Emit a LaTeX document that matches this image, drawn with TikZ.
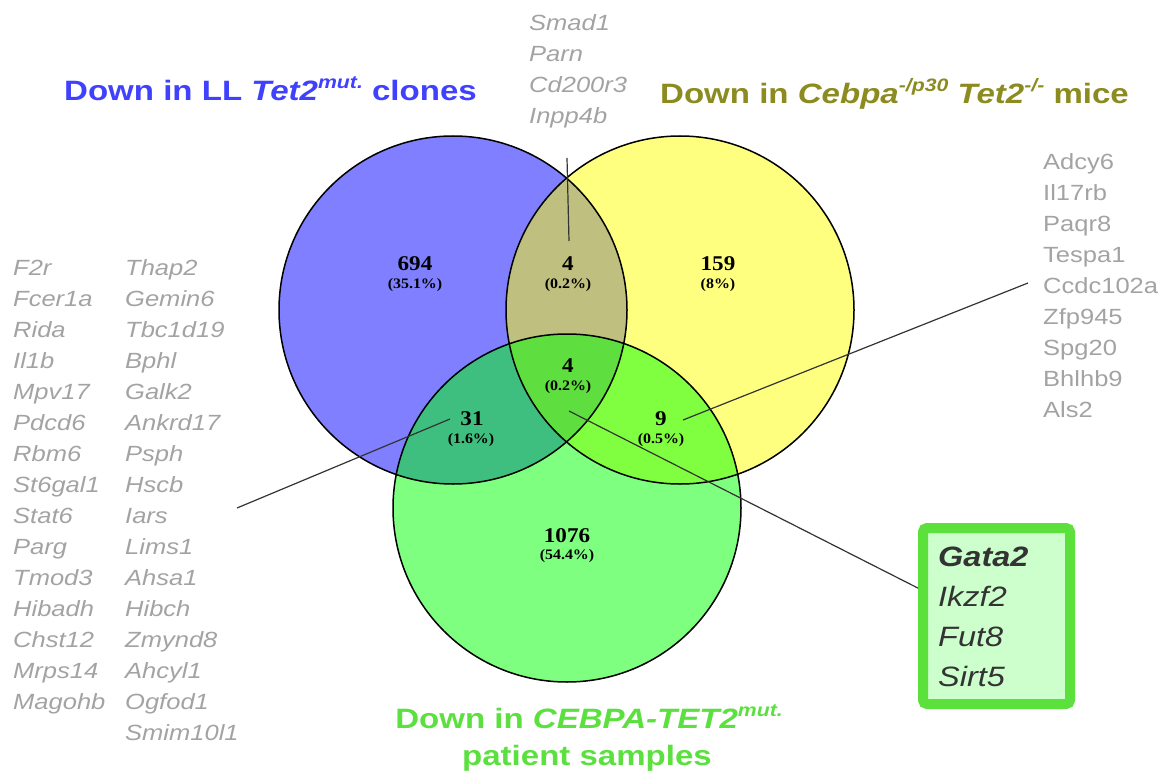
\documentclass[tikz,border=0pt]{standalone}
\usepackage{fontspec}
\usetikzlibrary{calc}
\newfontfamily\gsans[FakeStretch=1.16]{Liberation Sans}
\newfontfamily\tsans[FakeStretch=1.18]{Liberation Sans}
\newfontfamily\gserif[FakeStretch=1.1]{Liberation Serif}
\definecolor{vblue}{HTML}{0000FF}
\definecolor{vyellow}{HTML}{FFFF00}
\definecolor{vgreen}{HTML}{00FF00}
\definecolor{genegray}{HTML}{A3A3A3}
\definecolor{boxtext}{HTML}{333333}
\definecolor{titleblue}{HTML}{4040FF}
\definecolor{titleolive}{HTML}{8B8B20}
\definecolor{titlegreen}{HTML}{5BE03F}
\definecolor{boxgreen}{HTML}{5CE03C}
\definecolor{boxfill}{HTML}{CCFFCC}
\definecolor{leadgray}{HTML}{333333}
\newcommand\supr[1]{\raisebox{12pt}{\fontsize{18}{18}\selectfont #1}}
\begin{document}
\begin{tikzpicture}[x=1pt,y=-1pt,
  venn/.style={circle, minimum size=348pt, inner sep=0pt, fill opacity=0.5, draw=none},
  vline/.style={draw=black, line width=1.5pt},
  num/.style={font=\gserif\bfseries\fontsize{21}{21}\selectfont, anchor=base, inner sep=0pt},
  pct/.style={font=\gserif\bfseries\fontsize{14.5}{14.5}\selectfont, anchor=base, inner sep=0pt},
  gene/.style={font=\gsans\fontsize{22}{22}\selectfont, text=genegray, anchor=base west, inner sep=0pt},
  igene/.style={font=\gsans\itshape\fontsize{22}{22}\selectfont, text=genegray, anchor=base west, inner sep=0pt},
  boxgene/.style={font=\gsans\itshape\fontsize{28}{28}\selectfont, text=boxtext, anchor=base west, inner sep=0pt},
  title/.style={font=\tsans\bfseries\fontsize{28}{28}\selectfont, inner sep=0pt},
  leader/.style={draw=leadgray, line width=1.2pt}]
\useasboundingbox (0,0) rectangle (1170,773);
% circles
\node[venn, fill=vblue] (A) at (453,310) {};
\node[venn, fill=vyellow] (B) at (680,310) {};
\node[venn, fill=vgreen] (C) at (567,508) {};
\draw[vline] (A.center) circle[radius=174];
\draw[vline] (B.center) circle[radius=174];
\draw[vline] (C.center) circle[radius=174];
% titles
\node[title, text=titleblue, anchor=base west] (tA) at (64,101) {Down in LL \textit{Tet2\supr{mut.}} clones};
\node[title, text=titleolive, anchor=base west] (tB) at (660,104) {Down in \textit{Cebpa\supr{-/p30} Tet2\supr{-/-}} mice};
\node[title, text=titlegreen, anchor=base] (tC1) at (589,728) {Down in \textit{CEBPA-TET2\supr{mut.}}};
\node[title, text=titlegreen, anchor=base] (tC2) at (587,765) {patient samples};
% counts
\node[num] (n1) at (415,270) {694};
\node[pct] (p1) at (415,288) {(35.1\%)};
\node[num] (n2) at (568,270) {4};
\node[pct] (p2) at (568,288) {(0.2\%)};
\node[num] (n3) at (718,270) {159};
\node[pct] (p3) at (718,288) {(8\%)};
\node[num] (n4) at (568,372) {4};
\node[pct] (p4) at (568,390) {(0.2\%)};
\node[num] (n5) at (472,425) {31};
\node[pct] (p5) at (471,443) {(1.6\%)};
\node[num] (n6) at (661,425) {9};
\node[pct] (p6) at (661,443) {(0.5\%)};
\node[num] (n7) at (567,542) {1076};
\node[pct] (p7) at (567,559) {(54.4\%)};
% gene lists
\foreach \g [count=\i from 0] in {Smad1,Parn,Cd200r3,Inpp4b}
  \node[igene] (top\i) at (529,{31+31*\i}) {\g};
\foreach \g [count=\i from 0] in {Adcy6,Il17rb,Paqr8,Tespa1,Ccdc102a,Zfp945,Spg20,Bhlhb9,Als2}
  \node[gene] (rt\i) at (1043,{169+31*\i}) {\g};
\foreach \g [count=\i from 0] in {F2r,Fcer1a,Rida,Il1b,Mpv17,Pdcd6,Rbm6,St6gal1,Stat6,Parg,Tmod3,Hibadh,Chst12,Mrps14,Magohb}
  \node[igene] (la\i) at (13,{275+31*\i}) {\g};
\foreach \g [count=\i from 0] in {Thap2,Gemin6,Tbc1d19,Bphl,Galk2,Ankrd17,Psph,Hscb,Iars,Lims1,Ahsa1,Hibch,Zmynd8,Ahcyl1,Ogfod1,Smim10l1}
  \node[igene] (lb\i) at (125,{275+31*\i}) {\g};
% box
\node[draw=boxgreen, line width=10pt, fill=boxfill, rounded corners=4pt, minimum width=147pt, minimum height=176pt, inner sep=0pt] (box) at (996.5,616) {};
\node[boxgene, font=\gsans\bfseries\itshape\fontsize{28}{28}\selectfont] (g0) at (938,566) {Gata2};
\node[boxgene] (g1) at (938,606) {Ikzf2};
\node[boxgene] (g2) at (938,646) {Fut8};
\node[boxgene] (g3) at (938,686) {Sirt5};
% leaders
\coordinate (l1a) at (567,158);
\coordinate (l1b) at (569,241);
\coordinate (l2a) at (450,419);
\coordinate (l2b) at (237,508);
\coordinate (l3a) at (683,420);
\coordinate (l3b) at (1028,283);
\coordinate (l4a) at (569,411);
\draw[leader] (l1a) -- (l1b);
\draw[leader] (l2a) -- (l2b);
\draw[leader] (l3a) -- (l3b);
\draw[leader] (l4a) -- ($(box.north west)!0.35!(box.south west)$);
\end{tikzpicture}
\end{document}
